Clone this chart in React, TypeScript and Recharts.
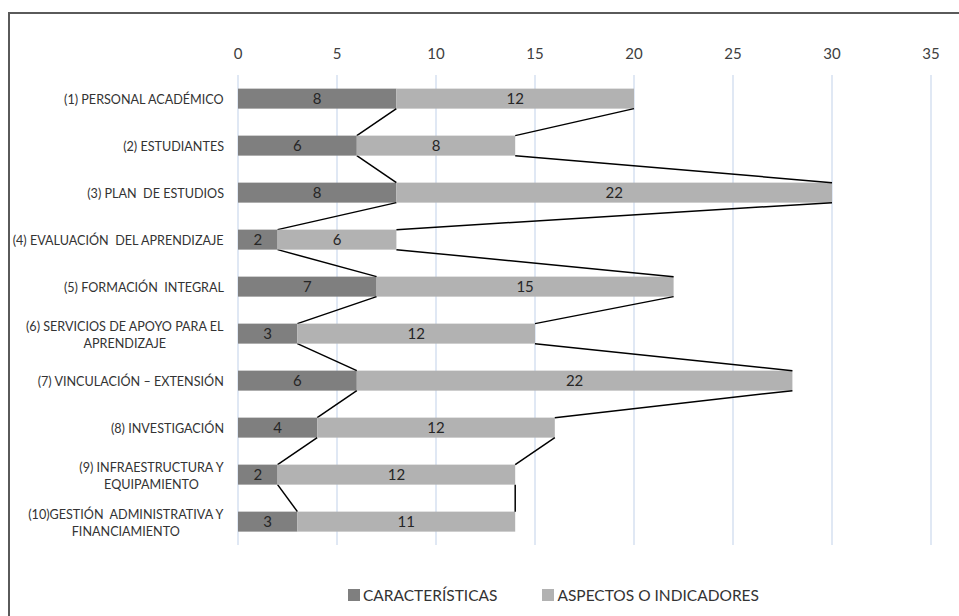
import React from 'react';
import { BarChart, Bar, XAxis, YAxis, CartesianGrid, LabelList, Legend } from 'recharts';

const categories = [
  '(1) PERSONAL ACADÉMICO',
  '(2) ESTUDIANTES',
  '(3) PLAN  DE ESTUDIOS',
  '(4) EVALUACIÓN  DEL APRENDIZAJE',
  '(5) FORMACIÓN  INTEGRAL',
  '(6) SERVICIOS DE APOYO PARA EL\nAPRENDIZAJE',
  '(7) VINCULACIÓN – EXTENSIÓN',
  '(8) INVESTIGACIÓN',
  '(9) INFRAESTRUCTURA Y\nEQUIPAMIENTO',
  '(10)GESTIÓN  ADMINISTRATIVA Y\nFINANCIAMIENTO',
];
const caracteristicas = [8, 6, 8, 2, 7, 3, 6, 4, 2, 3];
const aspectos = [12, 8, 22, 6, 15, 12, 22, 12, 12, 11];
const xTicks = [0, 5, 10, 15, 20, 25, 30, 35];
const seriesNames = ['CARACTERÍSTICAS', 'ASPECTOS O INDICADORES'];

const data = categories.map((name, i) => ({
  name,
  car: caracteristicas[i],
  asp: aspectos[i],
}));

const DARK = '#7f7f7f';
const LIGHT = '#b2b2b2';
const FONT = 'Lato, "Open Sans", sans-serif';
const CAT_SIZE = 12.6;

let ctx: CanvasRenderingContext2D | null = null;
const textWidth = (t: string, font: string) => {
  if (!ctx) ctx = document.createElement('canvas').getContext('2d');
  if (!ctx) return t.length * 7;
  ctx.font = font;
  return ctx.measureText(t).width;
};

// series lines: each bar remembers where it ended, the next one links to it
const makeShape = (store: Record<number, { end: number; bottom: number }>) => (props: any) => {
  const { x, y, width, height, fill } = props;
  const idx = typeof props.index === 'number' ? props.index : data.findIndex((d) => d.name === props.payload?.name);
  const end = x + width;
  store[idx] = { end, bottom: y + height };
  const prev = idx > 0 ? store[idx - 1] : undefined;
  return (
    <g>
      <rect x={x} y={y} width={width} height={height} fill={fill} />
      {prev && <line x1={prev.end} y1={prev.bottom} x2={end} y2={y} stroke="#000" strokeWidth={1.5} />}
    </g>
  );
};
const carShape = makeShape({});
const aspShape = makeShape({});

function CategoryTick({ x, y, payload }: any) {
  const lines = String(payload.value).split('\n');
  const font = `${CAT_SIZE}px Lato`;
  const w = Math.max(...lines.map((l) => textWidth(l, font)));
  const cx = x - w / 2;
  const lh = 17;
  const y0 = y - ((lines.length - 1) * lh) / 2 + 1;
  return (
    <text textAnchor="middle" fontFamily={FONT} fontSize={CAT_SIZE} fill="#333" style={{ whiteSpace: 'pre' }}>
      {lines.map((l, i) => (
        <tspan key={i} x={cx} y={y0 + i * lh} dy="0.36em">
          {l}
        </tspan>
      ))}
    </text>
  );
}

const renderLegend = (props: any) => {
  const items = [...(props.payload || [])].sort(
    (a: any, b: any) => seriesNames.indexOf(a.value) - seriesNames.indexOf(b.value)
  );
  return (
    <div style={{ display: 'flex', paddingLeft: 348, fontFamily: FONT, fontSize: 15.5, color: '#333', lineHeight: '20px' }}>
      {items.map((p: any, i: number) => (
        <div key={i} style={{ display: 'flex', alignItems: 'center', marginRight: 45 }}>
          <span style={{ width: 12, height: 12, background: p.color, display: 'inline-block', marginRight: 3 }} />
          <span>{p.value}</span>
        </div>
      ))}
    </div>
  );
};

export default function App() {
  return (
    <div style={{ position: 'absolute', left: 0, top: 0, width: 959, height: 616, background: '#fff' }}>
      <div
        style={{
          position: 'absolute',
          left: 8,
          top: 12,
          width: 951,
          height: 604,
          borderTop: '2px solid #5a5a5a',
          borderLeft: '2px solid #5a5a5a',
          boxSizing: 'border-box',
        }}
      />
      <div style={{ position: 'absolute', left: 0, top: 0 }}>
        <BarChart
          width={959}
          height={616}
          data={data}
          layout="vertical"
          margin={{ top: 0, right: 28, bottom: 71, left: 0 }}
          barCategoryGap="29%"
        >
          <CartesianGrid horizontal={false} stroke="#d6e1f1" strokeWidth={1.5} />
          <XAxis
            type="number"
            orientation="top"
            domain={[0, 35]}
            ticks={xTicks}
            height={75}
            axisLine={false}
            tickLine={false}
            tickSize={0}
            tickMargin={16}
            tick={{ fontFamily: FONT, fontSize: 15, fill: '#404040' }}
          />
          <YAxis
            type="category"
            dataKey="name"
            width={238}
            interval={0}
            axisLine={false}
            tickLine={false}
            tickSize={0}
            tickMargin={14}
            tick={<CategoryTick />}
          />
          <Legend
            layout="horizontal"
            verticalAlign="middle"
            align="center"
            wrapperStyle={{ top: 585, left: 0, width: 959 }}
            content={renderLegend}
          />
          <Bar dataKey="car" name={seriesNames[0]} stackId="a" fill={DARK} shape={carShape} isAnimationActive={false}>
            <LabelList dataKey="car" position="center" fill="#262626" fontFamily={FONT} fontSize={15} />
          </Bar>
          <Bar dataKey="asp" name={seriesNames[1]} stackId="a" fill={LIGHT} shape={aspShape} isAnimationActive={false}>
            <LabelList dataKey="asp" position="center" fill="#262626" fontFamily={FONT} fontSize={15} />
          </Bar>
        </BarChart>
      </div>
    </div>
  );
}
